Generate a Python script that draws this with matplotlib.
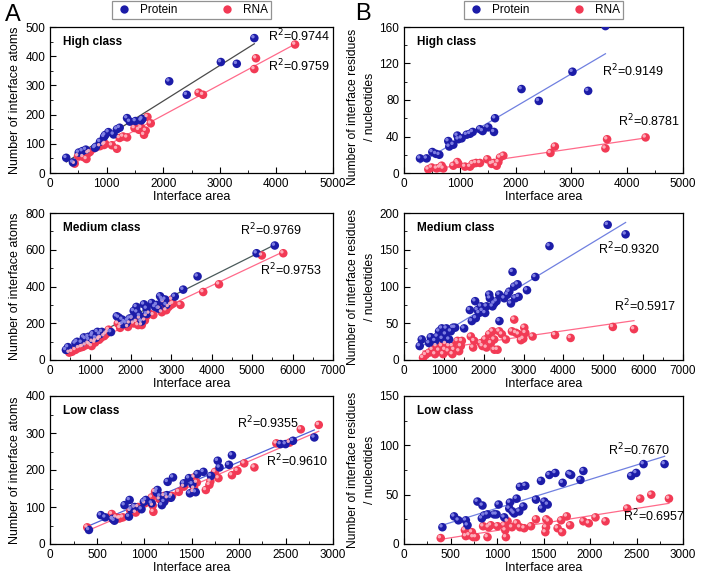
import numpy as np
import matplotlib
matplotlib.use("Agg")
import matplotlib.pyplot as plt
from matplotlib.lines import Line2D
from matplotlib.ticker import MultipleLocator
from matplotlib.transforms import offset_copy

plt.rcParams['font.family'] = ['Liberation Sans', 'DejaVu Sans']

# ---- High class ----
hi_prot_x = [287, 406, 508, 573, 633, 794, 812, 884, 956, 974, 1033, 1123, 1183, 1231,
             1362, 1410, 1511, 1613, 1631, 2106, 2416, 3019, 3300, 3610]
hi_prot_atoms = [52, 36, 70, 75, 80, 86, 90, 107, 124, 130, 140, 132, 150, 155,
                 188, 176, 178, 180, 185, 314, 268, 380, 374, 462]
hi_prot_res = [16, 16, 23, 21, 20, 35, 29, 31, 41, 37, 38, 42, 43, 45,
               48, 46, 50, 45, 60, 92, 79, 111, 90, 161]
hi_rna_x = [436, 496, 586, 644, 675, 705, 884, 956, 975, 1093, 1183, 1230, 1290, 1362,
            1493, 1571, 1611, 1661, 1691, 1721, 1780, 2625, 2703, 3610, 3640, 4330]
hi_rna_atoms = [32, 58, 55, 48, 68, 72, 92, 96, 100, 95, 83, 120, 125, 122,
                154, 148, 155, 131, 145, 192, 170, 275, 268, 356, 393, 440]
hi_rna_nt = [4, 6, 5, 6, 8, 5, 8, 12, 10, 7, 7, 10, 11, 11,
             15, 10, 11, 8, 12, 17, 19, 22, 29, 27, 37, 39]

# ---- Medium class ----
md_prot_x = [394, 445, 629, 671, 780, 838, 880, 948, 964, 1048, 1064, 1132, 1174, 1232,
             1283, 1509, 1652, 1702, 1786, 1803, 1844, 1886, 1929, 1969, 2037, 2071,
             2138, 2155, 2221, 2264, 2322, 2389, 2395, 2515, 2599, 2641, 2683, 2724,
             2766, 2792, 2850, 2876, 3086, 3295, 3650, 5110, 5560]
md_prot_atoms = [55, 70, 90, 99, 95, 123, 115, 126, 110, 130, 141, 120, 153, 140,
                 153, 152, 238, 231, 220, 195, 207, 200, 215, 226, 230, 267,
                 289, 260, 240, 210, 303, 280, 250, 310, 289, 300, 280, 347,
                 334, 320, 329, 300, 345, 383, 455, 581, 623]
md_prot_res = [19, 28, 23, 31, 26, 32, 39, 43, 29, 35, 43, 28, 39, 44,
               44, 43, 68, 53, 80, 57, 68, 64, 73, 67, 64, 73,
               89, 84, 73, 77, 80, 89, 53, 84, 89, 93, 77, 120,
               100, 84, 103, 86, 95, 113, 155, 184, 171]
md_rna_x = [478, 545, 629, 712, 780, 813, 880, 948, 981, 1031, 1048, 1115, 1132, 1215,
            1218, 1258, 1341, 1383, 1425, 1451, 1677, 1735, 1761, 1929, 1969, 2037,
            2071, 2138, 2180, 2221, 2264, 2270, 2347, 2389, 2457, 2557, 2708, 2766,
            2808, 2876, 2934, 2993, 3018, 3043, 3227, 3790, 4180, 5240, 5770]
md_rna_atoms = [40, 45, 55, 65, 70, 72, 80, 90, 85, 76, 100, 95, 105, 110,
                117, 120, 130, 140, 150, 165, 199, 175, 190, 180, 200, 226,
                199, 208, 190, 226, 208, 190, 215, 240, 253, 245, 280, 260,
                316, 271, 289, 300, 329, 307, 300, 370, 412, 569, 581]
md_rna_nt = [3, 7, 10, 14, 8, 19, 13, 19, 8, 14, 22, 12, 19, 8,
             19, 14, 26, 12, 19, 26, 32, 17, 26, 23, 19, 28,
             17, 35, 23, 39, 28, 14, 14, 39, 35, 28, 39, 55,
             37, 35, 27, 29, 44, 37, 32, 34, 30, 45, 42]

# ---- Low class ----
lo_prot_x = [413, 539, 585, 665, 683, 790, 837, 844, 862, 898, 970, 995, 1017, 1078,
             1132, 1139, 1167, 1186, 1211, 1239, 1247, 1283, 1304, 1419, 1473, 1484,
             1509, 1545, 1563, 1627, 1706, 1778, 1797, 1897, 1929, 2443, 2497, 2576, 2802]
lo_prot_atoms = [38, 78, 72, 68, 63, 105, 74, 119, 94, 100, 94, 114, 119, 110,
                 139, 146, 129, 105, 114, 132, 168, 125, 180, 164, 178, 137,
                 162, 140, 189, 195, 184, 225, 207, 214, 240, 270, 270, 279, 288]
lo_prot_res = [17, 28, 24, 24, 19, 43, 26, 39, 29, 30, 30, 30, 40, 27,
               36, 42, 33, 31, 46, 33, 58, 38, 59, 45, 64, 36,
               43, 40, 70, 72, 62, 71, 70, 65, 74, 69, 72, 81, 81]
lo_rna_x = [395, 655, 665, 701, 730, 744, 773, 851, 898, 909, 934, 1006, 1078, 1089,
            1096, 1114, 1161, 1211, 1247, 1293, 1366, 1419, 1520, 1527, 1530, 1556,
            1652, 1690, 1700, 1750, 1786, 1929, 1987, 2059, 2167, 2400, 2540, 2659, 2849]
lo_rna_atoms = [45, 81, 67, 72, 69, 70, 72, 90, 99, 85, 100, 110, 126, 104,
                87, 141, 121, 130, 124, 130, 141, 155, 141, 150, 180, 166,
                146, 160, 169, 195, 178, 186, 198, 218, 207, 272, 274, 310, 322]
lo_rna_nt = [6, 14, 8, 9, 12, 7, 7, 18, 7, 17, 19, 18, 19, 14,
             7, 23, 17, 21, 17, 16, 18, 25, 12, 17, 25, 23,
             16, 24, 12, 28, 19, 23, 21, 27, 23, 36, 46, 50, 46]

BLUE, BLUE_HI = '#1c1ca8', '#8a8ae8'
RED, RED_HI = '#f23a55', '#ffb8c4'
PINK_LINE = '#ff6a8a'


def balls(ax, x, y, col, hi):
    ax.scatter(x, y, s=38, color=col, edgecolors='none', zorder=3)
    tr = offset_copy(ax.transData, fig=ax.figure, x=-1.0, y=1.0, units='points')
    ax.scatter(x, y, s=6, color=hi, edgecolors='none', zorder=4, transform=tr, alpha=0.9)


def fitline(ax, x, y, col):
    x = np.array(x, float)
    k, b = np.polyfit(x, y, 1)
    xx = np.array([x.min(), x.max()])
    ax.plot(xx, k * xx + b, color=col, lw=0.9, zorder=2)


fig = plt.figure(figsize=(7.02, 5.8), dpi=100)

L, W1 = 50 / 702, 283 / 702
R, W2 = 404 / 702, 279 / 702
rows = [(1 - 173 / 580, 146 / 580), (1 - 360 / 580, 147 / 580), (1 - 544 / 580, 148 / 580)]

panels = [
    # (col, row, px, py, rx, ry, xmax, xmaj, ymax, ymaj, title, protline, r2p, r2r, posp, posr)
    (0, 0, hi_prot_x, hi_prot_atoms, hi_rna_x, hi_rna_atoms, 5000, 1000, 500, 100,
     'High class', '#4a4a4a', '0.9744', '0.9759', (3850, 470), (3850, 365)),
    (1, 0, hi_prot_x, hi_prot_res, hi_rna_x, hi_rna_nt, 5000, 1000, 160, 40,
     'High class', '#7080e0', '0.9149', '0.8781', (3540, 112), (3840, 57)),
    (0, 1, md_prot_x, md_prot_atoms, md_rna_x, md_rna_atoms, 7000, 1000, 800, 200,
     'Medium class', '#4a5a5a', '0.9769', '0.9753', (4710, 708), (5190, 491)),
    (1, 1, md_prot_x, md_prot_res, md_rna_x, md_rna_nt, 7000, 1000, 200, 50,
     'Medium class', '#7080e0', '0.9320', '0.5917', (4860, 151), (5280, 74)),
    (0, 2, lo_prot_x, lo_prot_atoms, lo_rna_x, lo_rna_atoms, 3000, 500, 400, 100,
     'Low class', '#5060d8', '0.9355', '0.9610', (1985, 328), (2295, 225)),
    (1, 2, lo_prot_x, lo_prot_res, lo_rna_x, lo_rna_nt, 3000, 500, 150, 50,
     'Low class', '#7080e0', '0.7670', '0.6957', (2190, 95), (2360, 28)),
]

axes = {}
for (c, r, px, py, rx, ry, xmax, xmaj, ymax, ymaj, title, pcol, r2p, r2r, posp, posr) in panels:
    bottom, h = rows[r]
    ax = fig.add_axes([L if c == 0 else R, bottom, W1 if c == 0 else W2, h])
    axes[(c, r)] = ax
    fitline(ax, px, py, pcol)
    fitline(ax, rx, ry, PINK_LINE)
    balls(ax, rx, ry, RED, RED_HI)
    balls(ax, px, py, BLUE, BLUE_HI)
    ax.set_xlim(0, xmax)
    ax.set_ylim(0, ymax)
    ax.xaxis.set_major_locator(MultipleLocator(xmaj))
    ax.xaxis.set_minor_locator(MultipleLocator(xmaj / 2))
    ax.yaxis.set_major_locator(MultipleLocator(ymaj))
    ax.yaxis.set_minor_locator(MultipleLocator(ymaj / 2))
    ax.tick_params(which='both', direction='in', labelsize=8.5, top=False, right=False)
    ax.tick_params(which='major', length=4)
    ax.tick_params(which='minor', length=2.5)
    for s in ax.spines.values():
        s.set_linewidth(0.9)
    ax.text(0.045, 0.9, title, transform=ax.transAxes, fontsize=8.5, fontweight='bold',
            va='center')
    ax.text(posp[0], posp[1], 'R$^2$=' + r2p, fontsize=9, va='center', ha='left')
    ax.text(posr[0], posr[1], 'R$^2$=' + r2r, fontsize=9, va='center', ha='left')
    ax.set_xlabel('Interface area', fontsize=9, labelpad=1)
    if c == 0:
        ax.set_ylabel('Number of interface atoms', fontsize=9, labelpad=3)
    else:
        ax.set_ylabel('Number of interface residues\n/ nucleotides', fontsize=8.7,
                      linespacing=1.6)
        ax.yaxis.set_label_coords(-0.1, 0.45 if r == 0 else 0.5)

handles = [Line2D([], [], ls='none', marker='o', ms=6, color=BLUE, mec='none'),
           Line2D([], [], ls='none', marker='o', ms=6, color=RED, mec='none')]
for key in [(0, 0), (1, 0)]:
    lg = axes[key].legend(handles, ['Protein', 'RNA'], loc='lower center', ncol=2,
                          bbox_to_anchor=(0.5, 1.055), frameon=True, fancybox=False,
                          fontsize=8.5, borderpad=0.25, handletextpad=0.6,
                          columnspacing=3.5, handlelength=1.5, borderaxespad=0)
    lg.get_frame().set_edgecolor('#777777')
    lg.get_frame().set_linewidth(0.9)

fig.text(5 / 702, 1 - 15 / 580, 'A', fontsize=17, va='center', ha='left')
fig.text(355 / 702, 1 - 14 / 580, 'B', fontsize=17, va='center', ha='left')

fig.savefig('out.png', dpi=100)
